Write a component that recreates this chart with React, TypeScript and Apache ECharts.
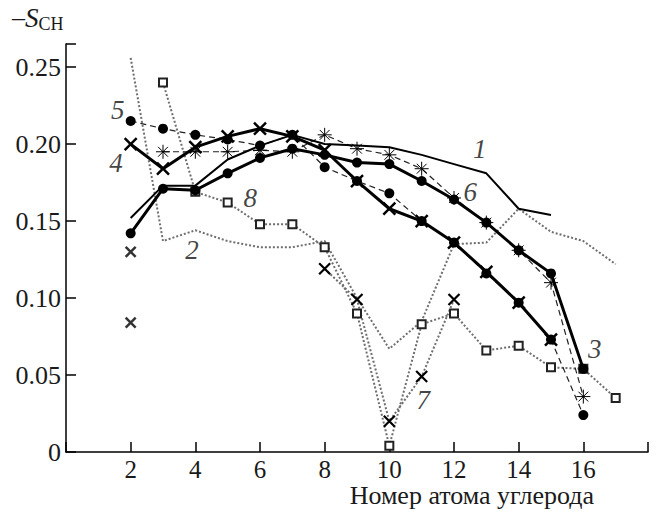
import React, { useEffect, useRef } from 'react';
import * as echarts from 'echarts';

// carbon atom numbers (x values)
const carbons = [2, 3, 4, 5, 6, 7, 8, 9, 10, 11, 12, 13, 14, 15, 16, 17];

// -S_CH values per curve, aligned with carbons (null = no point)
const curve1 = [0.152, 0.173, 0.173, 0.190, 0.199, 0.206, 0.200, 0.199, 0.198, 0.193, 0.187, 0.181, 0.158, 0.154, null, null];
const curve2 = [0.256, 0.137, 0.144, 0.137, 0.133, 0.133, 0.137, 0.100, 0.067, 0.085, 0.135, 0.136, 0.158, 0.143, 0.137, 0.122];
const curve3 = [0.142, 0.171, 0.170, 0.181, 0.191, 0.197, 0.193, 0.188, 0.187, 0.176, 0.164, 0.149, 0.131, 0.116, 0.054, null];
const curve4 = [0.200, 0.184, 0.198, 0.205, 0.210, 0.205, 0.196, 0.176, 0.158, 0.150, 0.136, 0.117, 0.097, 0.073, null, null];
const curve5 = [0.215, 0.210, 0.206, 0.203, 0.199, 0.206, 0.185, 0.176, 0.168, 0.150, 0.136, 0.116, 0.097, 0.073, 0.024, null];
const curve6 = [null, 0.195, 0.195, 0.195, 0.196, 0.195, 0.206, 0.197, 0.193, 0.184, 0.165, 0.149, 0.131, 0.110, 0.036, null];
const curve7 = [null, null, null, null, null, null, 0.119, 0.099, 0.020, 0.049, 0.099, null, null, null, null, null];
const curve8 = [null, 0.240, 0.169, 0.162, 0.148, 0.148, 0.133, 0.090, 0.004, 0.083, 0.090, 0.066, 0.069, 0.055, 0.054, 0.035];

// isolated cross points at carbon 2
const extraCrossX = [2, 2];
const extraCrossY = [0.130, 0.084];

// curve number labels
const labelTexts = ['1', '2', '3', '4', '5', '6', '7', '8'];
const labelX = [12.8, 3.9, 16.35, 1.55, 1.6, 12.5, 11.05, 5.7];
const labelY = [0.197, 0.131, 0.067, 0.188, 0.222, 0.169, 0.034, 0.165];

// axis ticks
const yTicks = [0, 0.05, 0.1, 0.15, 0.2, 0.25];
const xTickLabels = [2, 4, 6, 8, 10, 12, 14, 16];

const FONT = "'Liberation Serif', 'Times New Roman', serif";

const pairs = (vals: (number | null)[]) =>
  carbons.map((c, i) => [c, vals[i] === null ? '-' : vals[i]]);

const CROSS = 'path://M0,0L10,10M10,0L0,10';
const STAR = 'path://M5,0L5,10M0,5L10,5M1.5,1.5L8.5,8.5M8.5,1.5L1.5,8.5';

export default function App() {
  const ref = useRef<HTMLDivElement>(null);
  useEffect(() => {
    if (!ref.current) return;
    const chart = echarts.init(ref.current, null, { renderer: 'svg' });
    const grey = '#6e6e6e';
    const option: any = {
      animation: false,
      backgroundColor: '#fff',
      grid: { left: 66, right: 10, top: 44, bottom: 67 },
      xAxis: {
        type: 'value',
        min: 0,
        max: 18,
        interval: 2,
        axisLine: { lineStyle: { color: '#000', width: 1.5 } },
        axisTick: { inside: true, length: 10, lineStyle: { color: '#000', width: 1.5 } },
        splitLine: { show: false },
        axisLabel: {
          margin: 5,
          fontFamily: FONT,
          fontSize: 25,
          lineHeight: 24,
          color: '#1a1a1a',
          formatter: (v: number) => (xTickLabels.includes(v) ? String(v) : ''),
        },
      },
      yAxis: {
        type: 'value',
        min: 0,
        max: 0.265,
        interval: 0.05,
        axisLine: { show: true, lineStyle: { color: '#000', width: 1.5 } },
        axisTick: { show: true, inside: true, length: 10, lineStyle: { color: '#000', width: 1.5 } },
        splitLine: { show: false },
        axisLabel: {
          margin: 5,
          fontFamily: FONT,
          fontSize: 26,
          color: '#1a1a1a',
          formatter: (v: number) => {
            const t = yTicks.find((y) => Math.abs(y - v) < 1e-9);
            if (t === undefined) return '';
            return t === 0 ? '0' : t.toFixed(2);
          },
        },
      },
      series: [
        {
          name: '2', type: 'line', data: pairs(curve2), showSymbol: false,
          lineStyle: { color: grey, width: 2, type: [2, 2] }, z: 1,
        },
        {
          name: '8', type: 'line', data: pairs(curve8), symbol: 'rect', symbolSize: 8,
          lineStyle: { color: grey, width: 2, type: [2, 2] },
          itemStyle: { color: '#fff', borderColor: '#222', borderWidth: 2 }, z: 2,
        },
        {
          name: '7', type: 'line', data: pairs(curve7), symbol: CROSS, symbolSize: 11,
          lineStyle: { color: grey, width: 2, type: [2, 2] },
          itemStyle: { color: '#000', borderColor: '#000', borderWidth: 2.2 }, z: 2,
        },
        {
          name: '7 (C2)', type: 'scatter', data: extraCrossX.map((x, i) => [x, extraCrossY[i]]),
          symbol: CROSS, symbolSize: 10,
          itemStyle: { color: '#000', borderColor: '#000', borderWidth: 2.5 }, z: 2,
        },
        {
          name: '5', type: 'line', data: pairs(curve5), symbol: 'circle', symbolSize: 10,
          lineStyle: { color: '#222', width: 1.2, type: [6, 4] },
          itemStyle: { color: '#000' }, z: 3,
        },
        {
          name: '6', type: 'line', data: pairs(curve6), symbol: STAR, symbolSize: 14,
          lineStyle: { color: '#222', width: 1.2, type: [6, 4] },
          itemStyle: { color: '#000', borderColor: '#000', borderWidth: 1 }, z: 3,
        },
        {
          name: '1', type: 'line', data: pairs(curve1), showSymbol: false,
          lineStyle: { color: '#000', width: 2 }, z: 4,
        },
        {
          name: '3', type: 'line', data: pairs(curve3), symbol: 'circle', symbolSize: 10,
          lineStyle: { color: '#000', width: 3 },
          itemStyle: { color: '#000' }, z: 5,
        },
        {
          name: '4', type: 'line', data: pairs(curve4), symbol: CROSS, symbolSize: 12,
          lineStyle: { color: '#000', width: 3 },
          itemStyle: { color: '#000', borderColor: '#000', borderWidth: 2.5 }, z: 5,
        },
        {
          name: 'labels', type: 'scatter', symbolSize: 0, silent: true, z: 6,
          data: labelTexts.map((t, i) => ({ value: [labelX[i], labelY[i]], name: t })),
          label: {
            show: true, position: 'inside', formatter: (p: any) => p.name,
            fontFamily: FONT, fontStyle: 'italic', fontSize: 27, color: '#111',
          },
        },
      ],
      graphic: [
        {
          type: 'text', left: 12, top: 4,
          style: {
            text: '{a|–}{s|S}{b|CH}',
            rich: {
              a: { fontFamily: FONT, fontSize: 26, fill: '#1a1a1a' },
              s: { fontFamily: FONT, fontSize: 27, fontStyle: 'italic', fill: '#1a1a1a' },
              b: { fontFamily: FONT, fontSize: 18, fill: '#1a1a1a', padding: [12, 0, 0, 0] },
            },
          },
        },
        {
          type: 'text', right: 64, top: 482,
          style: { text: 'Номер атома углерода', fontFamily: FONT, fontSize: 26, lineHeight: 26, fill: '#1a1a1a' },
        },
      ],
    };
    chart.setOption(option);
    return () => chart.dispose();
  }, []);
  return <div ref={ref} style={{ width: 658, height: 519, margin: -8 }} />;
}
